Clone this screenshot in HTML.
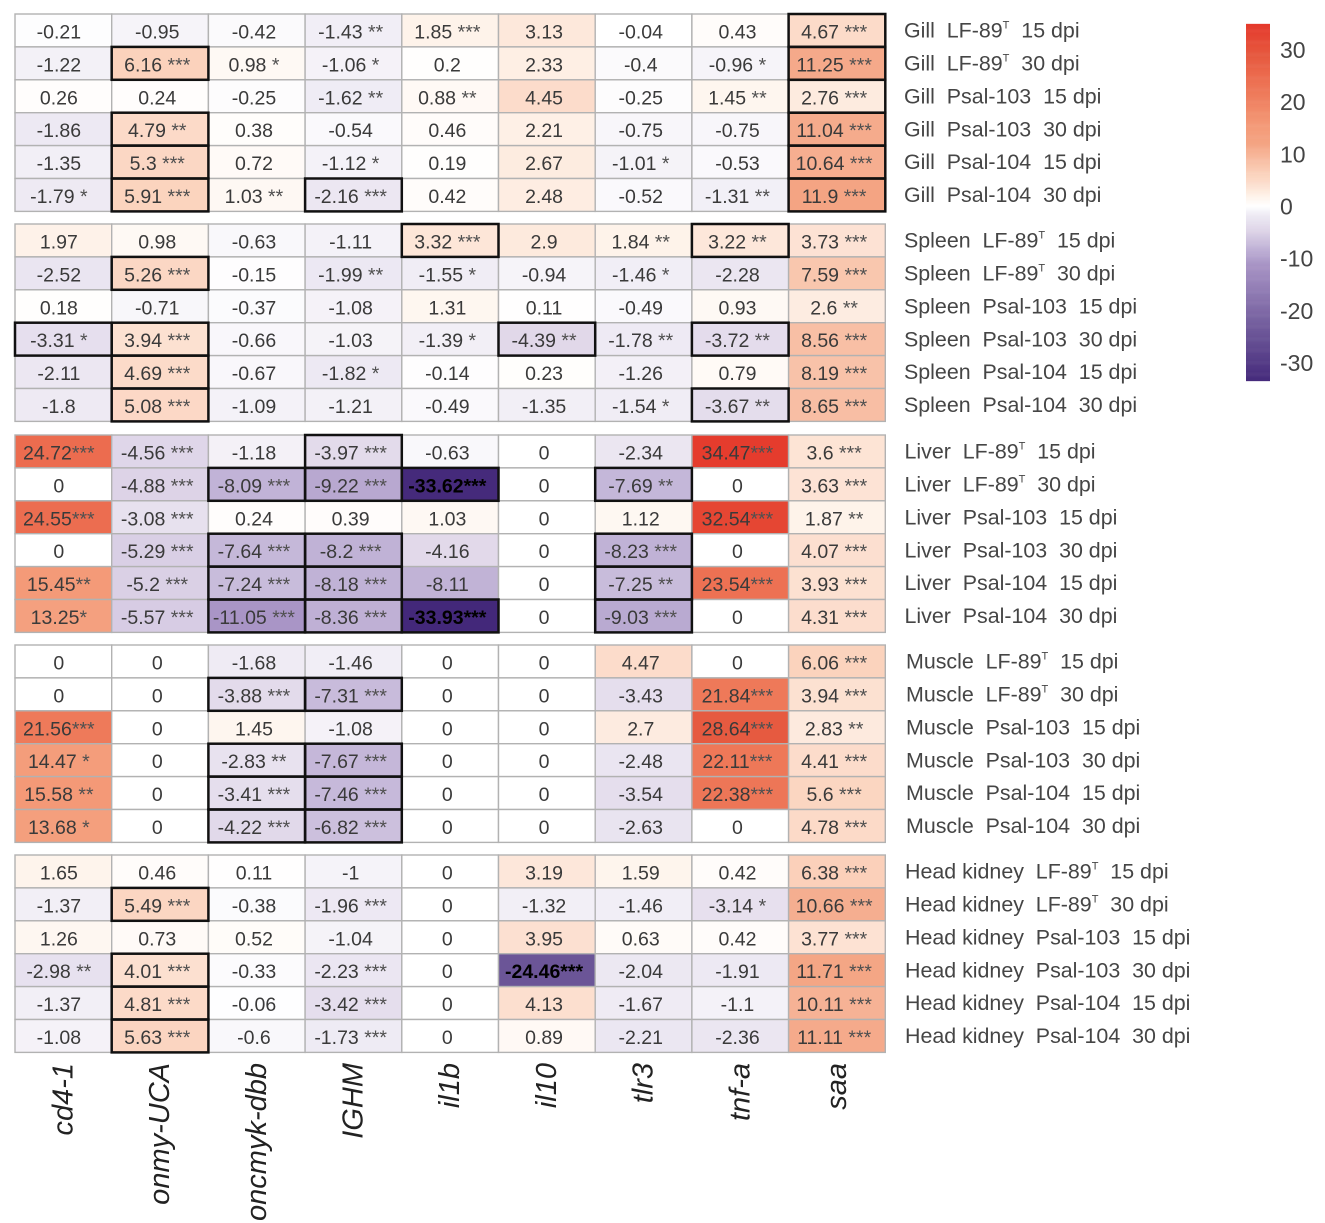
<!DOCTYPE html>
<html lang="en">
<head>
<meta charset="utf-8">
<title>Gene expression heatmap by tissue</title>
<style>
html,body{margin:0;padding:0;background:#fff;}
#chart{display:block;filter:blur(0.35px);}
text{font-family:"Liberation Sans",Arial,sans-serif;white-space:pre;}
</style>
</head>
<body>
<svg id="chart" xmlns="http://www.w3.org/2000/svg" width="1325" height="1223" viewBox="0 0 1325 1223"></svg>
<script>
const geneLabels = ["cd4-1","onmy-UCA","oncmyk-dbb","IGHM","il1b","il10","tlr3","tnf-a","saa"];
const tissueLabels = ["Gill","Spleen","Liver","Muscle","Head kidney"];
const strainLabels = ["LF-89","LF-89","Psal-103","Psal-103","Psal-104","Psal-104"];
const dpiLabels = ["15 dpi","30 dpi","15 dpi","30 dpi","15 dpi","30 dpi"];
const legendTicks = [30,20,10,0,-10,-20,-30];

const gillValues = [
 [-0.21,-0.95,-0.42,-1.43,1.85,3.13,-0.04,0.43,4.67],
 [-1.22,6.16,0.98,-1.06,0.2,2.33,-0.4,-0.96,11.25],
 [0.26,0.24,-0.25,-1.62,0.88,4.45,-0.25,1.45,2.76],
 [-1.86,4.79,0.38,-0.54,0.46,2.21,-0.75,-0.75,11.04],
 [-1.35,5.3,0.72,-1.12,0.19,2.67,-1.01,-0.53,10.64],
 [-1.79,5.91,1.03,-2.16,0.42,2.48,-0.52,-1.31,11.9]
];
const gillStars = ["000230003","031100013","000220023","020000003","030100103","132300023"];
const gillBoxes = ["000000001","010000001","000000001","010000001","010000001","010100001"];

const spleenValues = [
 [1.97,0.98,-0.63,-1.11,3.32,2.9,1.84,3.22,3.73],
 [-2.52,5.26,-0.15,-1.99,-1.55,-0.94,-1.46,-2.28,7.59],
 [0.18,-0.71,-0.37,-1.08,1.31,0.11,-0.49,0.93,2.6],
 [-3.31,3.94,-0.66,-1.03,-1.39,-4.39,-1.78,-3.72,8.56],
 [-2.11,4.69,-0.67,-1.82,-0.14,0.23,-1.26,0.79,8.19],
 [-1.8,5.08,-1.09,-1.21,-0.49,-1.35,-1.54,-3.67,8.65]
];
const spleenStars = ["000030223","030210103","000000002","130012223","030100003","030000123"];
const spleenBoxes = ["000010010","010000000","000000000","110001010","010000000","010000010"];

const liverValues = [
 [24.72,-4.56,-1.18,-3.97,-0.63,0,-2.34,34.47,3.6],
 [0,-4.88,-8.09,-9.22,-33.62,0,-7.69,0,3.63],
 [24.55,-3.08,0.24,0.39,1.03,0,1.12,32.54,1.87],
 [0,-5.29,-7.64,-8.2,-4.16,0,-8.23,0,4.07],
 [15.45,-5.2,-7.24,-8.18,-8.11,0,-7.25,23.54,3.93],
 [13.25,-5.57,-11.05,-8.36,-33.93,0,-9.03,0,4.31]
];
const liverStars = ["330300033","033330203","330000032","033300303","233300233","133330303"];
const liverBoxes = ["000100000","001110100","000000000","001100100","001100100","001110100"];

const muscleValues = [
 [0,0,-1.68,-1.46,0,0,4.47,0,6.06],
 [0,0,-3.88,-7.31,0,0,-3.43,21.84,3.94],
 [21.56,0,1.45,-1.08,0,0,2.7,28.64,2.83],
 [14.47,0,-2.83,-7.67,0,0,-2.48,22.11,4.41],
 [15.58,0,-3.41,-7.46,0,0,-3.54,22.38,5.6],
 [13.68,0,-4.22,-6.82,0,0,-2.63,0,4.78]
];
const muscleStars = ["000000003","003300033","300000032","102300033","203300033","103300003"];
const muscleBoxes = ["000000000","001100000","000000000","001100000","001100000","001100000"];

const kidneyValues = [
 [1.65,0.46,0.11,-1,0,3.19,1.59,0.42,6.38],
 [-1.37,5.49,-0.38,-1.96,0,-1.32,-1.46,-3.14,10.66],
 [1.26,0.73,0.52,-1.04,0,3.95,0.63,0.42,3.77],
 [-2.98,4.01,-0.33,-2.23,0,-24.46,-2.04,-1.91,11.71],
 [-1.37,4.81,-0.06,-3.42,0,4.13,-1.67,-1.1,10.11],
 [-1.08,5.63,-0.6,-1.73,0,0.89,-2.21,-2.36,11.11]
];
const kidneyStars = ["000000003","030300013","000000003","230303003","030300003","030300003"];
const kidneyBoxes = ["000000000","010000000","000000000","010000000","010000000","010000000"];

const allValues = [gillValues,spleenValues,liverValues,muscleValues,kidneyValues];
const allStars = [gillStars,spleenStars,liverStars,muscleStars,kidneyStars];
const allBoxes = [gillBoxes,spleenBoxes,liverBoxes,muscleBoxes,kidneyBoxes];

/* axis functions */
const panelTops = [14,224,435,645,855];
const labelLefts = [904,904,904.5,906,905];
const colStep = 96.7, rowStep = 32.9;
const xCol = c => 15 + c * colStep;
const yRow = (g, r) => panelTops[g] + r * rowStep;
const yLegend = v => 205.5 - v * 5.22;

/* colour scale */
const posStops = [[0,[255,255,255]],[1.85,[254,243,234]],[4.45,[252,220,203]],[6.06,[251,211,189]],[8.56,[248,191,165]],[11.9,[244,164,131]],[15.45,[244,154,120]],[21.56,[238,122,90]],[24.7,[236,108,79]],[28.6,[230,90,64]],[35,[229,57,43]]];
const negStops = [[0,[255,255,255]],[1.86,[237,233,243]],[4.5,[224,215,233]],[8.2,[192,178,214]],[11.05,[169,149,198]],[24.46,[107,85,151]],[34,[67,40,122]]];
function colorFor(v){
  const stops = v >= 0 ? posStops : negStops;
  const a = Math.abs(v);
  for (let i = 1; i < stops.length; i++){
    if (a <= stops[i][0]){
      const t = (a - stops[i-1][0]) / (stops[i][0] - stops[i-1][0]);
      const c = stops[i-1][1].map((p, k) => Math.round(p + (stops[i][1][k] - p) * t));
      return `rgb(${c[0]},${c[1]},${c[2]})`;
    }
  }
  const last = stops[stops.length-1][1];
  return `rgb(${last[0]},${last[1]},${last[2]})`;
}

const svg = document.getElementById('chart');
const NS = 'http://www.w3.org/2000/svg';
function mk(tag, attrs, parent){
  const el = document.createElementNS(NS, tag);
  for (const k in attrs) el.setAttribute(k, attrs[k]);
  (parent || svg).appendChild(el);
  return el;
}

/* heatmap panels */
allValues.forEach((rows, g) => {
  const panel = mk('g', {});
  
  
  const tight = g === 2 ? 13 : 20;
  rows.forEach((row, r) => {
    row.forEach((v, c) => {
      const cell = mk('rect', {x:xCol(c), y:yRow(g,r), width:colStep, height:rowStep, fill:colorFor(v), stroke:'#b2b2b2', 'stroke-width':1.4}, panel);
      
      
    });
  });
  rows.forEach((row, r) => {
    row.forEach((v, c) => {
      const n = Number(allStars[g][r][c]);
      const stars = '*'.repeat(n);
      const bold = v <= -20;
      const gap = (stars && Math.abs(v) < tight) ? ' ' : '';
      const shift = c === 0 ? 4.5 : 2.8;
      const t = mk('text', {x:xCol(c)+colStep/2-shift, y:yRow(g,r)+rowStep/2+8, 'text-anchor':'middle', 'font-size':19.5, fill:bold?'#000':'#3a3a3a', 'font-weight':bold?'bold':'normal'}, panel);
      
      
      t.textContent = String(v) + gap;
      if (stars){
        const s = mk('tspan', {fill:bold?'#000':'#505050'}, t);
        s.textContent = stars;
      }
    });
  });
  rows.forEach((row, r) => {
    row.forEach((v, c) => {
      if (allBoxes[g][r][c] === '1'){
        const box = mk('rect', {x:xCol(c), y:yRow(g,r), width:colStep, height:rowStep, fill:'none', stroke:'#111', 'stroke-width':2.5}, panel);
        
        
      }
    });
  });
  /* row labels */
  strainLabels.forEach((strain, r) => {
    const t = mk('text', {x:labelLefts[g], y:yRow(g,r)+rowStep/2+7.1, 'font-size':21.4, fill:'#454545'}, panel);
    
    
    const a = mk('tspan', {}, t);
    a.textContent = tissueLabels[g] + '  ' + strain;
    if (strain === 'LF-89'){
      const sup = mk('tspan', {dy:-9, 'font-size':11}, t);
      sup.textContent = 'T';
      const b = mk('tspan', {dy:9}, t);
      b.textContent = '  ' + dpiLabels[r];
    } else {
      const b = mk('tspan', {}, t);
      b.textContent = '  ' + dpiLabels[r];
    }
  });
});

/* gene labels */
geneLabels.forEach((name, c) => {
  const px = xCol(c) + colStep/2 + 9;
  const t = mk('text', {x:0, y:0, transform:`translate(${px},1063) rotate(-90)`, 'text-anchor':'end', 'font-size':29, 'font-style':'italic', fill:'#222'});
  
  
  t.textContent = name;
});

/* colour legend */
const legend = mk('g', {});


for (let v = 34.8; v > -33.5; v -= 0.2){
  const strip = mk('rect', {x:1246, y:yLegend(v), width:24, height:1.3, fill:colorFor(v)}, legend);
  
  
}
legendTicks.forEach(v => {
  const t = mk('text', {x:1280, y:yLegend(v)+9, 'font-size':23, fill:'#444'}, legend);
  
  
  t.textContent = String(v);
});
</script>
</body>
</html>
